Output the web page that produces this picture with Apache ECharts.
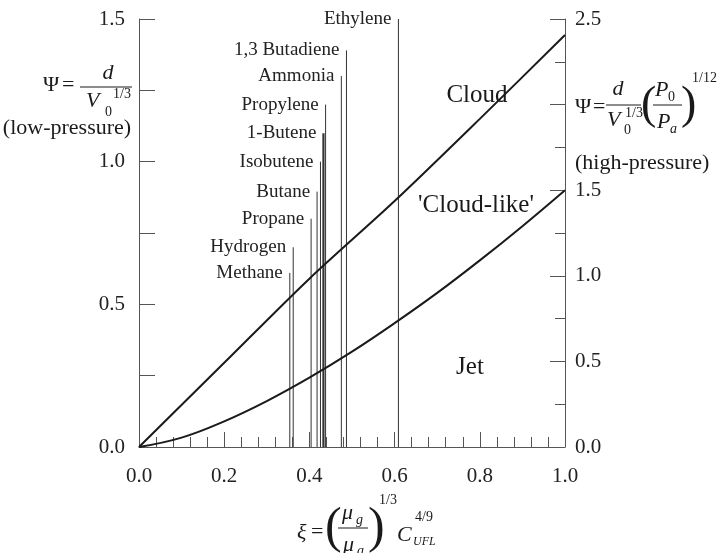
<!DOCTYPE html>
<html>
<head>
<meta charset="utf-8">
<script src="https://cdn.jsdelivr.net/npm/echarts@6/dist/echarts.min.js"></script>
<style>html,body{margin:0;padding:0;background:#fff;}#c{width:724px;height:553px;}</style>
</head>
<body>
<div id="c"></div>
<script>
// ---- data ----
var cloudX = [0, 0.2, 0.4, 0.6, 0.8, 1.0];
var cloudY = [0, 0.295, 0.59, 0.862, 1.15, 1.444];
var jetX = [0, 0.1, 0.2, 0.3, 0.4, 0.5, 0.6, 0.7, 0.8, 0.9, 1.0];
var jetY = [0, 0.033, 0.09, 0.161, 0.243, 0.334, 0.434, 0.54, 0.654, 0.774, 0.90];
var gasNames = ['Methane', 'Hydrogen', 'Propane', 'Butane', 'Isobutene', '1-Butene', 'Propylene', 'Ammonia', '1,3 Butadiene', 'Ethylene'];
var gasXi = [0.354, 0.362, 0.404, 0.418, 0.426, 0.433, 0.438, 0.475, 0.487, 0.609];
var gasTop = [0.61, 0.70, 0.80, 0.895, 1.0, 1.10, 1.20, 1.30, 1.39, 1.50];
var gasBold = [false, false, false, false, false, true, false, false, false, false];
var xTicks = [0, 0.2, 0.4, 0.6, 0.8, 1.0];
var regionNames = ['Cloud', "'Cloud-like'", 'Jet'];

var SERIF = '"Liberation Serif", "Times New Roman", serif';
var INK = '#1a1a1a';
var AX = '#555';

function T(x, y, text, size, italic, align) {
  return {
    type: 'text', x: x, y: y, silent: true,
    style: {
      text: text, fill: INK,
      font: (italic ? 'italic ' : '') + size + 'px ' + SERIF,
      align: align || 'left', textAlign: align || 'left',
      verticalAlign: 'middle', textVerticalAlign: 'middle'
    }
  };
}
function L(x1, y1, x2, y2) {
  return { type: 'line', silent: true, shape: { x1: x1, y1: y1, x2: x2, y2: y2 }, style: { stroke: INK, lineWidth: 1 } };
}

var graphics = [
  // left formula
  T(43, 85, 'Ψ', 22), T(62, 85, '=', 22),
  T(108, 73, 'd', 22, true, 'center'),
  L(80, 87, 132, 87),
  T(86, 101, 'V', 22, true), T(105, 112, '0', 14), T(113, 94, '1/3', 14),
  T(67, 128, '(low-pressure)', 22, false, 'center'),
  // right formula
  T(575, 107, 'Ψ', 22), T(593, 107, '=', 22),
  T(618, 89, 'd', 22, true, 'center'),
  L(606, 105, 641, 105),
  T(607, 120, 'V', 22, true), T(624, 130, '0', 14), T(625, 113, '1/3', 14),
  T(641, 106, '(', 46), T(655, 90, 'P', 22, true), T(668, 97, '0', 14),
  L(653, 105, 682, 105),
  T(657, 122, 'P', 22, true), T(670, 129, 'a', 14, true),
  T(681, 106, ')', 46), T(692, 78, '1/12', 14),
  T(575, 163, '(high-pressure)', 22),
  // x-axis formula
  T(297, 533, 'ξ', 22, true), T(311, 532, '=', 22),
  T(325, 529, '(', 50), T(342, 513, 'μ', 22, true), T(356, 520, 'g', 14, true),
  L(338, 528, 368, 528),
  T(343, 545, 'μ', 22, true), T(357, 551, 'a', 14, true),
  T(368, 529, ')', 50), T(379, 500, '1/3', 14),
  T(397, 535, 'C', 22, true), T(415, 517, '4/9', 14), T(413, 542, 'UFL', 12, true),
  // region labels
  T(477, 95, regionNames[0], 25, false, 'center'),
  T(476, 205, regionNames[1], 25, false, 'center'),
  T(470, 367, regionNames[2], 25, false, 'center')
];

var chart = echarts.init(document.getElementById('c'));
chart.setOption({
  backgroundColor: '#fff',
  animation: false,
  grid: { left: 139, right: 159, top: 19, bottom: 106 },
  xAxis: {
    type: 'value', min: 0, max: 1, interval: 0.2,
    axisLine: { show: true, lineStyle: { color: AX, width: 1 } },
    axisTick: { show: true, inside: true, length: 15, lineStyle: { color: AX } },
    minorTick: { show: true, splitNumber: 5, length: 10, lineStyle: { color: AX } },
    splitLine: { show: false },
    axisLabel: { formatter: function (v) { return v.toFixed(1); }, fontFamily: SERIF, fontSize: 21, color: '#222', margin: 19 }
  },
  yAxis: [{
    type: 'value', min: 0, max: 1.5, interval: 0.5, position: 'left',
    axisLine: { show: true, lineStyle: { color: AX, width: 1 } },
    axisTick: { show: true, inside: true, length: 16, lineStyle: { color: AX } },
    minorTick: { show: true, splitNumber: 2, length: 16, lineStyle: { color: AX } },
    splitLine: { show: false },
    axisLabel: { formatter: function (v) { return v.toFixed(1); }, fontFamily: SERIF, fontSize: 21, color: '#222', margin: 14 }
  }, {
    type: 'value', min: 0, max: 2.5, interval: 0.5, position: 'right',
    axisLine: { show: true, lineStyle: { color: AX, width: 1 } },
    axisTick: { show: true, inside: true, length: 15, lineStyle: { color: AX } },
    minorTick: { show: true, splitNumber: 2, length: 10, lineStyle: { color: AX } },
    splitLine: { show: false },
    axisLabel: { formatter: function (v) { return Math.abs(v - 2) < 1e-9 ? '' : v.toFixed(1); }, fontFamily: SERIF, fontSize: 21, color: '#222', margin: 10 }
  }],
  series: [{
    type: 'line', yAxisIndex: 0, showSymbol: false, symbol: 'none',
    data: cloudX.map(function (x, i) { return [x, cloudY[i]]; }),
    smooth: 0.3, lineStyle: { color: INK, width: 2 }
  }, {
    type: 'line', yAxisIndex: 0, showSymbol: false, symbol: 'none',
    data: jetX.map(function (x, i) { return [x, jetY[i]]; }),
    smooth: 0.4, lineStyle: { color: INK, width: 2 }
  }, {
    type: 'custom', yAxisIndex: 0, clip: false,
    data: gasXi.map(function (x, i) { return [x, gasTop[i]]; }),
    encode: { x: 0, y: 1 },
    renderItem: function (params, api) {
      var i = params.dataIndex;
      var p0 = api.coord([api.value(0), 0]);
      var p1 = api.coord([api.value(0), api.value(1)]);
      return {
        type: 'group', children: [{
          type: 'line',
          shape: { x1: p0[0], y1: p0[1], x2: p1[0], y2: p1[1] },
          style: { stroke: '#333', lineWidth: gasBold[i] ? 2.2 : 1 }
        }, {
          type: 'text',
          style: {
            text: gasNames[i], x: p1[0] - 7, y: p1[1],
            align: 'right', textAlign: 'right', verticalAlign: 'middle', textVerticalAlign: 'middle',
            font: '19px ' + SERIF, fill: '#222'
          }
        }]
      };
    }
  }],
  graphic: { elements: graphics }
});
</script>
</body>
</html>
